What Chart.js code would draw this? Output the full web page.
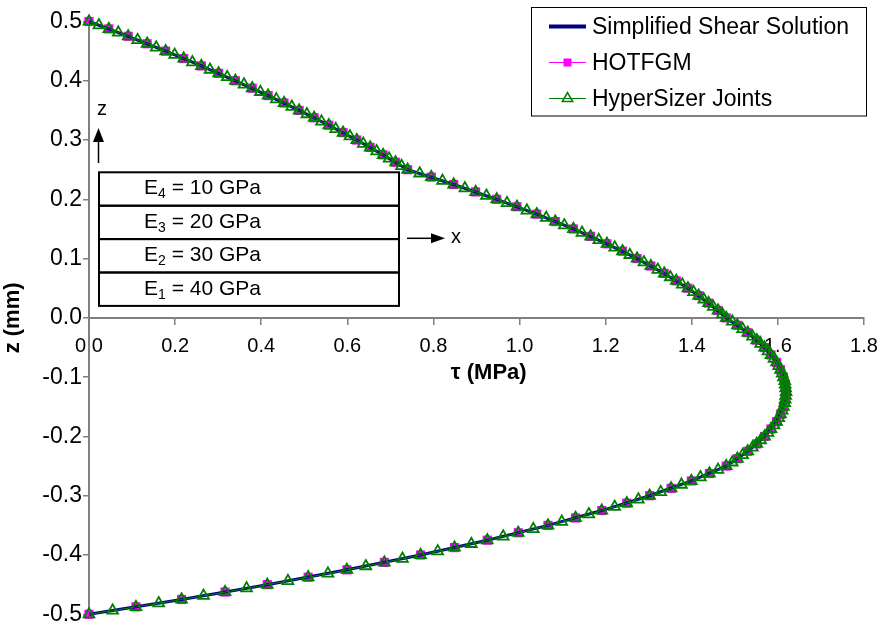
<!DOCTYPE html>
<html>
<head>
<meta charset="utf-8">
<title>Shear stress through the thickness</title>
<script src="https://cdn.jsdelivr.net/npm/chart.js@4.4.1/dist/chart.umd.min.js"></script>
<style>
  html, body { margin: 0; padding: 0; background: #fff; }
</style>
</head>
<body>
<canvas id="chart" width="883" height="625"></canvas>
<script>
// ---- data (tau in MPa, z in mm) ----
const seriesNames = ['Simplified Shear Solution', 'HOTFGM', 'HyperSizer Joints'];

const zLine = [
  -0.5, -0.475, -0.45, -0.425, -0.4, -0.375, -0.35, -0.325, -0.3, -0.275,
  -0.25, -0.225, -0.2, -0.175, -0.15, -0.125, -0.1, -0.075, -0.05, -0.025,
  0, 0.025, 0.05, 0.075, 0.1, 0.125, 0.15, 0.175, 0.2, 0.225,
  0.25, 0.275, 0.3, 0.325, 0.35, 0.375, 0.4, 0.425, 0.45, 0.475, 0.5
];
const tauLine = [
  0.000, 0.215, 0.414, 0.599, 0.770, 0.925, 1.066, 1.191, 1.302, 1.399,
  1.480, 1.530, 1.569, 1.597, 1.613, 1.619, 1.613, 1.597, 1.569, 1.530,
  1.480, 1.439, 1.391, 1.336, 1.273, 1.203, 1.125, 1.040, 0.947, 0.847,
  0.740, 0.683, 0.622, 0.557, 0.488, 0.416, 0.340, 0.261, 0.178, 0.091, 0.000
];

const zHot = [
  -0.5, -0.4875, -0.475, -0.4625, -0.45, -0.4375, -0.425, -0.4125,
  -0.4, -0.3875, -0.375, -0.3625, -0.35, -0.3375, -0.325, -0.3125,
  -0.3, -0.2875, -0.275, -0.2625, -0.25, -0.2375, -0.225, -0.2125,
  -0.2, -0.1875, -0.175, -0.1625, -0.15, -0.1375, -0.125, -0.1125,
  -0.1, -0.0875, -0.075, -0.0625, -0.05, -0.0375, -0.025, -0.0125,
  0, 0.0125, 0.025, 0.0375, 0.05, 0.0625, 0.075, 0.0875,
  0.1, 0.1125, 0.125, 0.1375, 0.15, 0.1625, 0.175, 0.1875,
  0.2, 0.2125, 0.225, 0.2375, 0.25, 0.2625, 0.275, 0.2875,
  0.3, 0.3125, 0.325, 0.3375, 0.35, 0.3625, 0.375, 0.3875,
  0.4, 0.4125, 0.425, 0.4375, 0.45, 0.4625, 0.475, 0.4875, 0.5
];
const tauHot = [
  0.000, 0.109, 0.215, 0.316, 0.414, 0.509, 0.599, 0.686,
  0.770, 0.849, 0.925, 0.997, 1.066, 1.130, 1.191, 1.249,
  1.302, 1.352, 1.399, 1.441, 1.480, 1.506, 1.530, 1.551,
  1.569, 1.584, 1.597, 1.606, 1.613, 1.617, 1.619, 1.617,
  1.613, 1.606, 1.597, 1.584, 1.569, 1.551, 1.530, 1.506,
  1.480, 1.461, 1.439, 1.416, 1.391, 1.364, 1.336, 1.305,
  1.273, 1.239, 1.203, 1.165, 1.125, 1.083, 1.040, 0.994,
  0.947, 0.898, 0.847, 0.795, 0.740, 0.712, 0.683, 0.653,
  0.622, 0.590, 0.557, 0.523, 0.488, 0.453, 0.416, 0.379,
  0.340, 0.301, 0.261, 0.220, 0.178, 0.135, 0.091, 0.046, 0.000
];

const zHyper = [
  -0.5, -0.49375, -0.4875, -0.48125, -0.475, -0.46875, -0.4625, -0.45625,
  -0.45, -0.44375, -0.4375, -0.43125, -0.425, -0.41875, -0.4125, -0.40625,
  -0.4, -0.39375, -0.3875, -0.38125, -0.375, -0.36875, -0.3625, -0.35625,
  -0.35, -0.34375, -0.3375, -0.33125, -0.325, -0.31875, -0.3125, -0.30625,
  -0.3, -0.29375, -0.2875, -0.28125, -0.275, -0.26875, -0.2625, -0.25625,
  -0.25, -0.24375, -0.2375, -0.23125, -0.225, -0.21875, -0.2125, -0.20625,
  -0.2, -0.19375, -0.1875, -0.18125, -0.175, -0.16875, -0.1625, -0.15625,
  -0.15, -0.14375, -0.1375, -0.13125, -0.125, -0.11875, -0.1125, -0.10625,
  -0.1, -0.09375, -0.0875, -0.08125, -0.075, -0.06875, -0.0625, -0.05625,
  -0.05, -0.04375, -0.0375, -0.03125, -0.025, -0.01875, -0.0125, -0.00625,
  0, 0.00625, 0.0125, 0.01875, 0.025, 0.03125, 0.0375, 0.04375,
  0.05, 0.05625, 0.0625, 0.06875, 0.075, 0.08125, 0.0875, 0.09375,
  0.1, 0.10625, 0.1125, 0.11875, 0.125, 0.13125, 0.1375, 0.14375,
  0.15, 0.15625, 0.1625, 0.16875, 0.175, 0.18125, 0.1875, 0.19375,
  0.2, 0.20625, 0.2125, 0.21875, 0.225, 0.23125, 0.2375, 0.24375,
  0.25, 0.25625, 0.2625, 0.26875, 0.275, 0.28125, 0.2875, 0.29375,
  0.3, 0.30625, 0.3125, 0.31875, 0.325, 0.33125, 0.3375, 0.34375,
  0.35, 0.35625, 0.3625, 0.36875, 0.375, 0.38125, 0.3875, 0.39375,
  0.4, 0.40625, 0.4125, 0.41875, 0.425, 0.43125, 0.4375, 0.44375,
  0.45, 0.45625, 0.4625, 0.46875, 0.475, 0.48125, 0.4875, 0.49375, 0.5
];
const tauHyper = [
  0.000, 0.055, 0.109, 0.162, 0.215, 0.266, 0.316, 0.366,
  0.414, 0.462, 0.509, 0.555, 0.599, 0.643, 0.686, 0.728,
  0.770, 0.810, 0.849, 0.888, 0.925, 0.962, 0.997, 1.032,
  1.066, 1.098, 1.130, 1.161, 1.191, 1.221, 1.249, 1.276,
  1.302, 1.328, 1.352, 1.376, 1.399, 1.420, 1.441, 1.461,
  1.480, 1.494, 1.506, 1.518, 1.530, 1.541, 1.551, 1.560,
  1.569, 1.577, 1.584, 1.591, 1.597, 1.602, 1.606, 1.610,
  1.613, 1.616, 1.617, 1.618, 1.619, 1.618, 1.617, 1.616,
  1.613, 1.610, 1.606, 1.602, 1.597, 1.591, 1.584, 1.577,
  1.569, 1.560, 1.551, 1.541, 1.530, 1.518, 1.506, 1.494,
  1.480, 1.471, 1.461, 1.450, 1.439, 1.428, 1.416, 1.404,
  1.391, 1.378, 1.364, 1.350, 1.336, 1.321, 1.305, 1.289,
  1.273, 1.256, 1.239, 1.221, 1.203, 1.184, 1.165, 1.145,
  1.125, 1.104, 1.083, 1.062, 1.040, 1.017, 0.994, 0.971,
  0.947, 0.923, 0.898, 0.873, 0.847, 0.821, 0.795, 0.768,
  0.740, 0.726, 0.712, 0.697, 0.683, 0.668, 0.653, 0.637,
  0.622, 0.606, 0.590, 0.573, 0.557, 0.540, 0.523, 0.506,
  0.488, 0.471, 0.453, 0.435, 0.416, 0.398, 0.379, 0.360,
  0.340, 0.321, 0.301, 0.281, 0.261, 0.240, 0.220, 0.199,
  0.178, 0.156, 0.135, 0.113, 0.091, 0.068, 0.046, 0.023, 0.000
];

// layer schematic labels (top layer first)
const layerSubs = ['4', '3', '2', '1'];
const layerModuli = [10, 20, 30, 40];

const FONT = "'Liberation Sans', Arial, sans-serif";
const NAVY = '#000080';
const MAGENTA = '#ff00ff';
const GREEN = '#008000';
const AXIS_GREY = '#808080';

function toPoints(xs, ys) {
  return ys.map((z, i) => ({ x: xs[i], y: z }));
}

function drawTriangle(ctx, x, y, r) {
  ctx.beginPath();
  ctx.moveTo(x, y - r);
  ctx.lineTo(x + r * Math.sin(Math.PI / 3), y + r / 2);
  ctx.lineTo(x - r * Math.sin(Math.PI / 3), y + r / 2);
  ctx.closePath();
  ctx.stroke();
}

// schematic of the four layers and the x / z arrows, drawn under the curves
const schematic = {
  id: 'schematic',
  beforeDatasetsDraw(chart) {
    const ctx = chart.ctx;
    ctx.save();
    const bx = 99, bw = 300, by = 172.3, rh = 33.4;
    ctx.fillStyle = '#fff';
    ctx.fillRect(bx, by, bw, rh * 4);
    ctx.strokeStyle = '#000';
    ctx.lineWidth = 2;
    for (let i = 0; i < 4; i++) {
      ctx.strokeRect(bx, by + i * rh, bw, rh);
    }
    ctx.fillStyle = '#000';
    ctx.textBaseline = 'alphabetic';
    ctx.textAlign = 'left';
    layerSubs.forEach((sub, i) => {
      const base = by + i * rh + 22;
      let x = 144;
      ctx.font = '21px ' + FONT;
      ctx.fillText('E', x, base);
      x += ctx.measureText('E').width;
      ctx.font = '14px ' + FONT;
      ctx.fillText(sub, x, base + 4);
      x += ctx.measureText(sub).width;
      ctx.font = '21px ' + FONT;
      ctx.fillText(' = ' + layerModuli[i] + ' GPa', x, base);
    });

    // z arrow
    ctx.lineWidth = 1.5;
    ctx.beginPath();
    ctx.moveTo(98.5, 163);
    ctx.lineTo(98.5, 140);
    ctx.stroke();
    ctx.beginPath();
    ctx.moveTo(98.5, 128);
    ctx.lineTo(104, 142);
    ctx.lineTo(93, 142);
    ctx.closePath();
    ctx.fill();
    ctx.font = '20px ' + FONT;
    ctx.fillText('z', 97, 115);

    // x arrow
    ctx.beginPath();
    ctx.moveTo(407, 238.3);
    ctx.lineTo(433, 238.3);
    ctx.stroke();
    ctx.beginPath();
    ctx.moveTo(445, 238.3);
    ctx.lineTo(431, 233.3);
    ctx.lineTo(431, 243.3);
    ctx.closePath();
    ctx.fill();
    ctx.fillText('x', 451, 243);
    ctx.restore();
  },

  // boxed legend in the top right corner
  afterDraw(chart) {
    const ctx = chart.ctx;
    ctx.save();
    ctx.fillStyle = '#fff';
    ctx.fillRect(531.5, 7.5, 335, 108.5);
    ctx.strokeStyle = '#000';
    ctx.lineWidth = 1;
    ctx.strokeRect(531.5, 7.5, 335, 108.5);

    const rows = [26.5, 62.5, 98.5];
    const x0 = 549, x1 = 586, xm = (x0 + x1) / 2;

    ctx.strokeStyle = NAVY;
    ctx.lineWidth = 4;
    ctx.beginPath(); ctx.moveTo(x0, rows[0]); ctx.lineTo(x1, rows[0]); ctx.stroke();

    ctx.strokeStyle = MAGENTA;
    ctx.lineWidth = 1;
    ctx.beginPath(); ctx.moveTo(x0, rows[1]); ctx.lineTo(x1, rows[1]); ctx.stroke();
    ctx.fillStyle = MAGENTA;
    ctx.fillRect(xm - 4, rows[1] - 4, 8, 8);

    ctx.strokeStyle = GREEN;
    ctx.beginPath(); ctx.moveTo(x0, rows[2]); ctx.lineTo(x1, rows[2]); ctx.stroke();
    ctx.lineWidth = 1.5;
    drawTriangle(ctx, xm, rows[2], 6);

    ctx.fillStyle = '#000';
    ctx.font = '23px ' + FONT;
    ctx.textBaseline = 'middle';
    ctx.textAlign = 'left';
    seriesNames.forEach((name, i) => ctx.fillText(name, 592, rows[i] + 1));
    ctx.restore();
  }
};

Chart.defaults.font.family = FONT;
Chart.defaults.color = '#000';

new Chart(document.getElementById('chart'), {
  type: 'scatter',
  data: {
    datasets: [
      {
        label: seriesNames[0],
        data: toPoints(tauLine, zLine),
        showLine: true,
        borderColor: NAVY,
        borderWidth: 3,
        pointRadius: 0,
        tension: 0,
        clip: false,
        order: 1
      },
      {
        label: seriesNames[1],
        data: toPoints(tauHot, zHot),
        showLine: true,
        borderColor: MAGENTA,
        borderWidth: 1,
        pointStyle: 'rect',
        pointRadius: 6.5,
        pointBackgroundColor: MAGENTA,
        pointBorderColor: MAGENTA,
        pointBorderWidth: 0,
        tension: 0,
        clip: false,
        order: 2
      },
      {
        label: seriesNames[2],
        data: toPoints(tauHyper, zHyper),
        showLine: true,
        borderColor: GREEN,
        borderWidth: 1,
        pointStyle: 'triangle',
        pointRadius: 6.2,
        pointBackgroundColor: 'rgba(0,0,0,0)',
        pointBorderColor: GREEN,
        pointBorderWidth: 1.8,
        tension: 0,
        clip: false,
        order: 0
      }
    ]
  },
  options: {
    responsive: false,
    animation: false,
    events: [],
    layout: { padding: { left: 0, top: 21.5, right: 19, bottom: 10.7 } },
    plugins: {
      legend: { display: false },
      tooltip: { enabled: false }
    },
    scales: {
      x: {
        type: 'linear',
        position: { y: 0 },
        min: 0,
        max: 1.8,
        border: { display: true, color: AXIS_GREY, width: 2 },
        grid: { drawOnChartArea: false, drawTicks: true, tickLength: 6, color: AXIS_GREY, lineWidth: 1.5 },
        ticks: {
          stepSize: 0.2,
          autoSkip: false,
          maxRotation: 0,
          padding: 11,
          font: { size: 20, lineHeight: 1.2 },
          callback: v => v.toFixed(1)
        },
        title: {
          display: true,
          text: '    τ (MPa)',
          font: { size: 22, weight: 'bold', lineHeight: 1.2 },
          padding: { top: -10, bottom: 0 }
        },
        afterFit(scale) {
          scale.paddingLeft = 0;
          scale.paddingRight = 0;
        }
      },
      y: {
        type: 'linear',
        position: 'left',
        min: -0.5,
        max: 0.5,
        border: { display: true, color: AXIS_GREY, width: 2 },
        grid: { drawOnChartArea: false, drawTicks: true, tickLength: 6, color: AXIS_GREY, lineWidth: 1.5 },
        ticks: {
          stepSize: 0.1,
          autoSkip: false,
          padding: 1,
          font: { size: 23, lineHeight: 1 },
          callback: v => (Math.abs(v) < 1e-9 ? 0 : v).toFixed(1)
        },
        title: {
          display: true,
          text: 'z (mm)',
          font: { size: 22, weight: 'bold', lineHeight: 1.2 },
          padding: 0
        },
        afterFit(scale) {
          scale.width = 89;
          scale.paddingTop = 0;
          scale.paddingBottom = 0;
        }
      }
    }
  },
  plugins: [schematic]
});
</script>
</body>
</html>
